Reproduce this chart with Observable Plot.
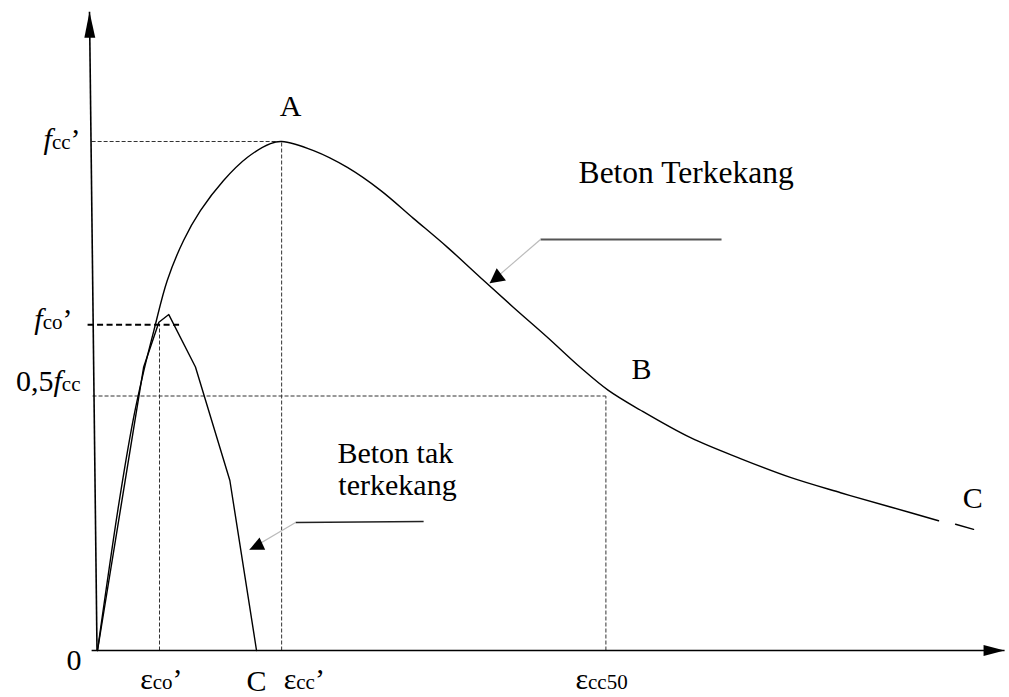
<!DOCTYPE html>
<html>
<head>
<meta charset="utf-8">
<script src="https://cdn.jsdelivr.net/npm/d3@7"></script>
<script src="https://cdn.jsdelivr.net/npm/@observablehq/plot@0.6"></script>
<style>
  html, body { margin: 0; padding: 0; background: #fff; overflow: hidden; }
  #chart svg { display: block; }
</style>
</head>
<body>
<div id="chart"></div>
<script>
// Mander stress–strain model: strain in ‰, stress normalised by f'cc.

// Confined concrete (smooth curve), plus the short stub after the gap near C
const confinedStrain = [0, 0.68, 1.16, 1.48, 1.82, 2.25, 2.78, 3.32, 4.06, 4.84, 5.58, 5.94, 6.97, 8.06, 9.13, 10.19, 11.29, 12.35, 13.42, 14.52, 15.58, 16.48, 17.52, 19.13, 20.74, 22.35, 23.97, 25.58, 27.13];
const confinedStress = [0, 0.285, 0.456, 0.546, 0.629, 0.727, 0.806, 0.864, 0.923, 0.969, 0.996, 1.0, 0.982, 0.949, 0.904, 0.849, 0.792, 0.733, 0.674, 0.615, 0.556, 0.511, 0.472, 0.418, 0.377, 0.340, 0.310, 0.282, 0.255];
const confinedTailStrain = [27.68, 28.26];
const confinedTailStress = [0.248, 0.238];

// Unconfined concrete (polyline)
const unconfinedStrain = [0, 1.49, 1.98, 2.30, 3.16, 4.27, 5.13];
const unconfinedStress = [0, 0.557, 0.645, 0.660, 0.557, 0.334, 0];

// Characteristic values
const keyStrain = {co: 2.0, cc: 5.94, cc50: 16.4};
const keyStress = {cc: 1.0, co: 0.64, half: 0.5};

// Axis extents (tips of the arrows) and the slight lean of the vertical axis
const xAxisExtent = [-0.19, 29.26];
const yAxisBase = [-0.016, 0];
const yAxisTip = [-0.258, 1.255];

// Dashed guide lines
const guideLines = [
  {x1: -0.19, y1: keyStress.cc, x2: keyStrain.cc, y2: keyStress.cc},
  {x1: keyStrain.cc, y1: 0, x2: keyStrain.cc, y2: keyStress.cc},
  {x1: keyStrain.co, y1: 0, x2: keyStrain.co, y2: keyStress.co},
  {x1: -0.16, y1: keyStress.half, x2: keyStrain.cc50, y2: keyStress.half},
  {x1: keyStrain.cc50, y1: 0, x2: keyStrain.cc50, y2: keyStress.half}
];
const fcoLine = [{x1: -0.32, y1: keyStress.co, x2: 2.74, y2: keyStress.co}];

// Callouts: horizontal shelf, then a thin pointer to an arrow tip
const calloutShelves = [
  {x1: 14.29, y1: 0.8075, x2: 20.13, y2: 0.8075, stroke: "#555", width: 2},
  {x1: 6.39, y1: 0.2515, x2: 10.52, y2: 0.2534, stroke: "#222", width: 1.5}
];
const calloutPointers = [
  {x1: 14.29, y1: 0.8075, x2: 12.65, y2: 0.7216, angle: -127, len: 7.3, spread: 1.05},
  {x1: 6.39, y1: 0.2515, x2: 4.90, y2: 0.198, angle: -115, len: 7.15, spread: 0.94}
];

// Plain text labels
const plainLabels = [
  {text: "A", x: 6.23, y: 1.051, anchor: "middle", size: 30},
  {text: "B", x: 17.55, y: 0.534, anchor: "middle", size: 30},
  {text: "C", x: 28.23, y: 0.279, anchor: "middle", size: 30},
  {text: "C", x: 5.13, y: -0.080, anchor: "middle", size: 30},
  {text: "0", x: -0.76, y: -0.039, anchor: "middle", size: 30},
  {text: "Beton Terkekang", x: 15.52, y: 0.9175, anchor: "start", size: 31.5},
  {text: "Beton tak", x: 7.74, y: 0.369, anchor: "start", size: 30},
  {text: "terkekang", x: 7.77, y: 0.306, anchor: "start", size: 30}
];

// Notation labels made of mixed-size / italic pieces
const notationLabels = [
  {x: -0.548, y: 0.986, anchor: "end", parts: [{t: "f", italic: true}, {t: "cc", small: true}, {t: "’"}]},
  {x: -0.806, y: 0.632, anchor: "end", parts: [{t: "f", italic: true}, {t: "co", small: true}, {t: "’"}]},
  {x: -0.548, y: 0.509, anchor: "end", parts: [{t: "0,5"}, {t: "f", italic: true}, {t: "cc", small: true}]},
  {x: 2.06, y: -0.076, anchor: "middle", parts: [{t: "ε"}, {t: "co", small: true}, {t: "’"}]},
  {x: 6.67, y: -0.076, anchor: "middle", parts: [{t: "ε"}, {t: "cc", small: true}, {t: "’"}]},
  {x: 16.26, y: -0.076, anchor: "middle", parts: [{t: "ε"}, {t: "cc50", small: true}]}
];

const FONT = '"Liberation Serif", "Times New Roman", serif';
const BIG = 30, SMALL = 21;

const pts = (xs, ys) => xs.map((x, i) => ({x, y: ys[i]}));

// Arrowhead symbol with its tip at the anchor point, pointing "up" before rotation
function arrowHead(spread) {
  return {
    draw(ctx, size) {
      const r = Math.sqrt(size / Math.PI);
      ctx.moveTo(0, 0);
      ctx.lineTo(spread * r, 2 * r);
      ctx.lineTo(-spread * r, 2 * r);
      ctx.closePath();
    }
  };
}

const measureCtx = document.createElement("canvas").getContext("2d");
function textWidth(t, size, italic) {
  measureCtx.font = `${italic ? "italic " : ""}${size}px "Liberation Serif"`;
  return measureCtx.measureText(t).width;
}

function notationMarks() {
  const marks = [];
  for (const lab of notationLabels) {
    const widths = lab.parts.map(p => textWidth(p.t, p.small ? SMALL : BIG, !!p.italic));
    const total = d3.sum(widths);
    let offset = lab.anchor === "end" ? -total : lab.anchor === "middle" ? -total / 2 : 0;
    lab.parts.forEach((p, i) => {
      marks.push(Plot.text([lab], {
        x: "x", y: "y", text: () => p.t, dx: offset,
        textAnchor: "start", lineAnchor: "bottom",
        fontSize: p.small ? SMALL : BIG, fontStyle: p.italic ? "italic" : "normal",
        fontFamily: FONT, fill: "black"
      }));
      offset += widths[i];
    });
  }
  return marks;
}

const chart = Plot.plot({
  width: 1009,
  height: 697,
  margin: 0,
  style: {background: "white", fontFamily: FONT},
  x: {domain: [0, 30], range: [97, 1027], axis: null},
  y: {domain: [0, 1], range: [650, 141], axis: null},
  marks: [
    // guides
    Plot.link(guideLines, {x1: "x1", y1: "y1", x2: "x2", y2: "y2", stroke: "#333", strokeWidth: 1, strokeDasharray: "4,2"}),
    Plot.link(fcoLine, {x1: "x1", y1: "y1", x2: "x2", y2: "y2", stroke: "black", strokeWidth: 1.8, strokeDasharray: "6,3.5"}),

    // axes
    Plot.link([{x1: xAxisExtent[0], x2: xAxisExtent[1]}], {x1: "x1", x2: "x2", y1: 0, y2: 0, stroke: "black", strokeWidth: 1.6}),
    Plot.link([{x1: yAxisBase[0], y1: yAxisBase[1], x2: yAxisTip[0], y2: yAxisTip[1]}], {x1: "x1", y1: "y1", x2: "x2", y2: "y2", stroke: "black", strokeWidth: 1.6}),
    Plot.dot([{x: xAxisExtent[1], y: 0}], {x: "x", y: "y", r: 10.5, symbol: arrowHead(0.52), fill: "black", stroke: "none", rotate: 90}),
    Plot.dot([{x: yAxisTip[0], y: yAxisTip[1]}], {x: "x", y: "y", r: 13, symbol: arrowHead(0.42), fill: "black", stroke: "none", rotate: -0.7}),

    // curves
    Plot.line(pts(unconfinedStrain, unconfinedStress), {x: "x", y: "y", stroke: "black", strokeWidth: 1.4}),
    Plot.line(pts(confinedStrain, confinedStress), {x: "x", y: "y", stroke: "black", strokeWidth: 1.4, curve: "catmull-rom"}),
    Plot.line(pts(confinedTailStrain, confinedTailStress), {x: "x", y: "y", stroke: "black", strokeWidth: 1.4}),

    // callouts
    Plot.link(calloutShelves, {x1: "x1", y1: "y1", x2: "x2", y2: "y2", stroke: d => d.stroke, strokeWidth: d => d.width}),
    Plot.link(calloutPointers, {x1: "x1", y1: "y1", x2: "x2", y2: "y2", stroke: "#bbb", strokeWidth: 1.2}),
    ...calloutPointers.map(p => Plot.dot([p], {x: "x2", y: "y2", r: p.len, symbol: arrowHead(p.spread), fill: "black", stroke: "none", rotate: p.angle})),

    // labels
    ...plainLabels.map(d => Plot.text([d], {
      x: "x", y: "y", text: "text", textAnchor: d.anchor, lineAnchor: "bottom",
      fontSize: d.size, fontFamily: FONT, fill: "black"
    })),
    ...notationMarks()
  ]
});

document.getElementById("chart").append(chart);
</script>
</body>
</html>
